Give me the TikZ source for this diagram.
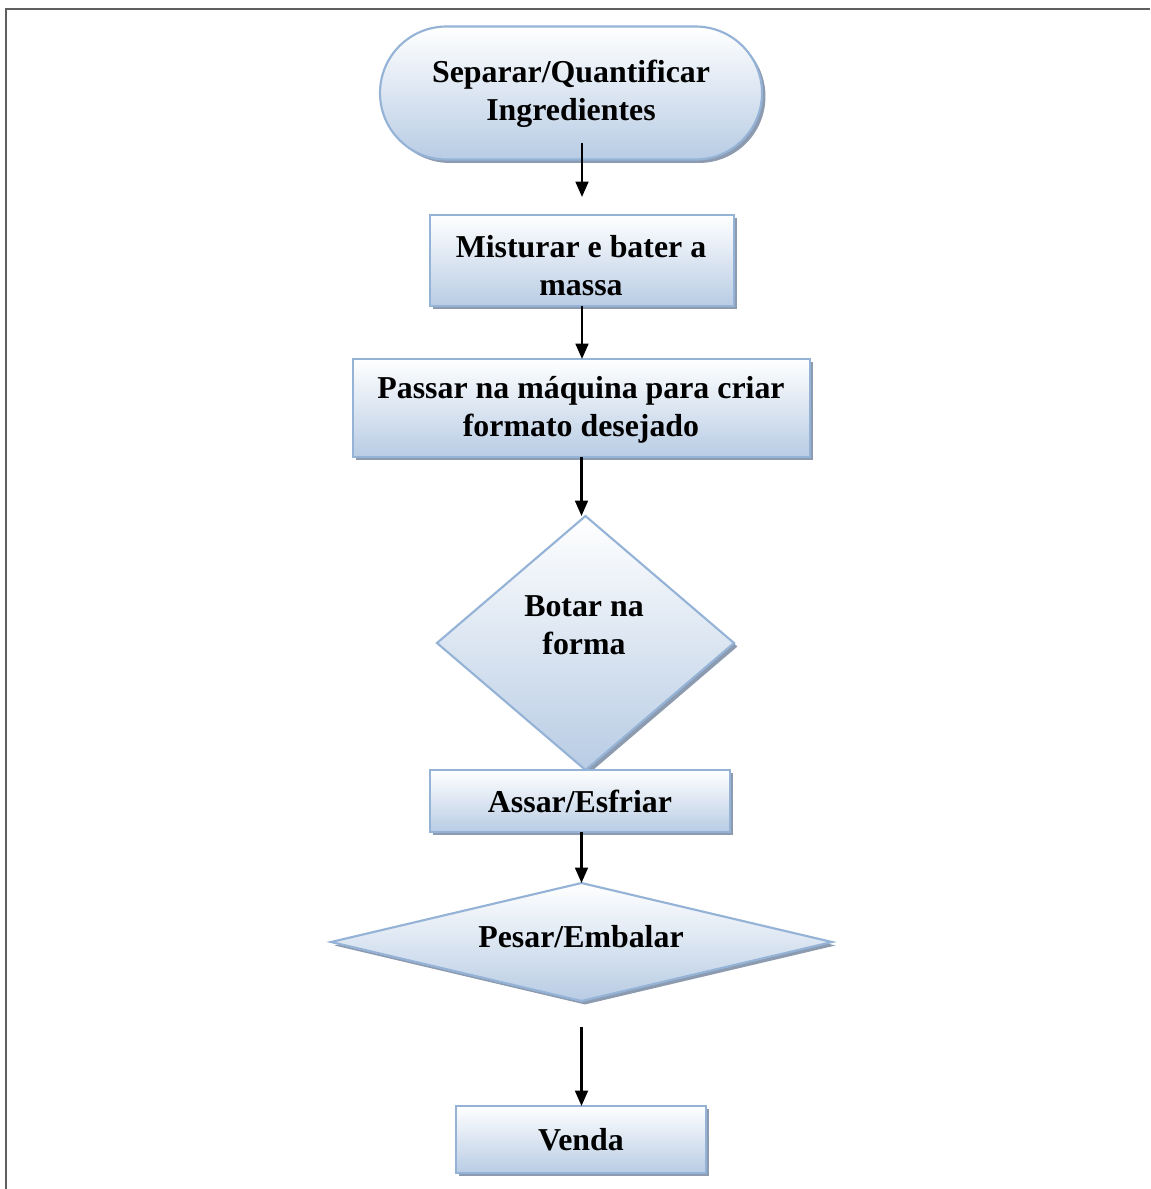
\documentclass[tikz,border=0pt]{standalone}
\usepackage{fontspec}
\setmainfont{Liberation Serif}
\usetikzlibrary{shapes.geometric,shapes.misc,shadows,arrows.meta,calc}
\definecolor{edgeblue}{RGB}{149,179,215}
\definecolor{fillbot}{RGB}{184,204,228}
\definecolor{shadowgray}{RGB}{140,155,175}
\definecolor{framegray}{RGB}{95,95,95}
\begin{document}
\begin{tikzpicture}[x=0.75pt,y=-0.75pt,
  label font/.style={font=\fontsize{23.9}{28.5}\selectfont\bfseries, align=center},
  box/.style={draw=edgeblue, line width=1.6pt, top color=white, bottom color=fillbot,
    drop shadow={shadow xshift=2.6pt, shadow yshift=-2.6pt, opacity=1, fill=shadowgray},
    inner sep=0pt, outer sep=0pt, label font},
  txt/.style={label font, inner sep=0pt},
  arr/.style={line width=1.9pt, -{Triangle[length=11.5pt,width=9.5pt]}}]
\useasboundingbox (0,0) rectangle (1150,1189);

% outer frame (left and top edges)
\draw[framegray, line width=1.5pt] (5.5,1189) -- (5.5,9) -- (1150,9);

% process steps
\node[box, rounded rectangle, minimum width=382*0.75pt, minimum height=133*0.75pt] (sep) at (571,93) {};
\node[txt] (sepl) at (571,94) {Separar/Quantificar\\Ingredientes};
\node[box, rectangle, minimum width=304*0.75pt, minimum height=91*0.75pt] (mis) at (582,260.5) {};
\node[txt] (misl) at (581,266) {Misturar e bater a\\massa};
\node[box, rectangle, minimum width=457*0.75pt, minimum height=98*0.75pt] (pas) at (581.5,408) {};
\node[txt] (pasl) at (581,409.5) {Passar na máquina para criar\\formato desejado};
\node[box, diamond, minimum width=297*0.75pt, minimum height=254*0.75pt] (bot) at (585.5,643) {};
\node[txt] (botl) at (584,625) {Botar na\\forma};
\node[box, rectangle, minimum width=300*0.75pt, minimum height=62*0.75pt] (ass) at (580,801) {Assar/Esfriar};
\node[box, diamond, minimum width=501*0.75pt, minimum height=118*0.75pt] (pes) at (581.5,942) {};
\node[txt] (pesl) at (581,937) {Pesar/Embalar};
\node[box, rectangle, minimum width=250*0.75pt, minimum height=67*0.75pt] (ven) at (581,1139.5) {Venda};

% connectors
\coordinate (a1) at ($(sep.south -| mis.north)+(0,-17)$);
\coordinate (a1e) at ($(mis.north)+(0,-18)$);
\draw[arr] (a1) -- (a1e);
\draw[arr] (mis.south) -- (mis.south |- pas.north);
\draw[arr] (pas.south) -- (pas.south |- bot.north);
\draw[arr] (pes.north |- ass.south) -- (pes.north);
\coordinate (a6) at ($(pes.south)+(0,26)$);
\draw[arr] (a6) -- (a6 |- ven.north);
\end{tikzpicture}
\end{document}
